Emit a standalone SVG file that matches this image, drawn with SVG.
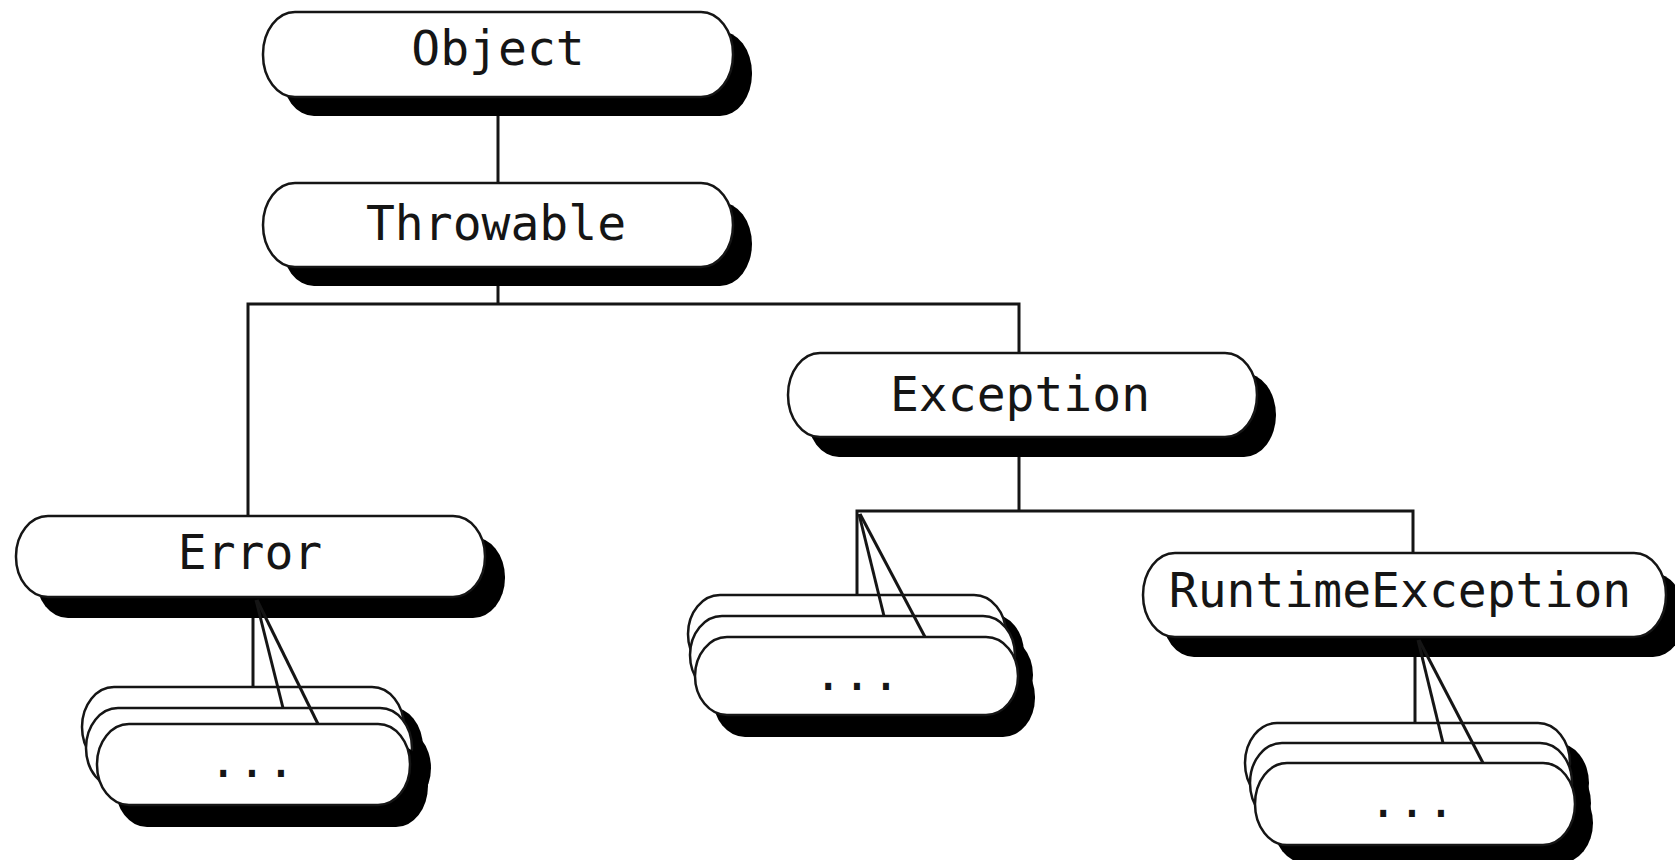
<svg xmlns="http://www.w3.org/2000/svg" width="1675" height="860" viewBox="0 0 1675 860">
  <style>
    .pill { fill: #ffffff; stroke: #151515; stroke-width: 2.5; }
    .shadow { fill: #000000; }
    .lbl { font-family: "DejaVu Sans Mono", "Liberation Mono", monospace; font-size: 48px; fill: #151515; text-anchor: middle; }
    .conn { stroke: #151515; stroke-width: 3; fill: none; }
  </style>
  <rect x="0" y="0" width="1675" height="860" fill="#ffffff"/>

  <g id="node-object">
    <rect class="shadow" x="282" y="31" width="470" height="85" rx="32" ry="42"/>
    <rect class="pill" x="263" y="12" width="470" height="85" rx="32" ry="42"/>
    <text class="lbl" x="498" y="65">Object</text>
  </g>

  <g id="node-throwable">
    <rect class="shadow" x="282" y="202" width="470" height="84" rx="32" ry="42"/>
    <rect class="pill" x="263" y="183" width="470" height="84" rx="32" ry="42"/>
    <text class="lbl" x="496" y="240">Throwable</text>
  </g>

  <g id="node-exception">
    <rect class="shadow" x="807" y="373" width="469" height="84" rx="32" ry="42"/>
    <rect class="pill" x="788" y="353" width="469" height="84" rx="32" ry="42"/>
    <text class="lbl" x="1020" y="411">Exception</text>
  </g>

  <g id="node-error">
    <rect class="shadow" x="36" y="537" width="469" height="81" rx="32" ry="40"/>
    <rect class="pill" x="16" y="516" width="469" height="81" rx="32" ry="40"/>
    <text class="lbl" x="250" y="569">Error</text>
  </g>

  <g id="node-runtimeexception">
    <rect class="shadow" x="1162" y="573" width="523" height="84" rx="32" ry="42"/>
    <rect class="pill" x="1143" y="553" width="523" height="84" rx="32" ry="42"/>
    <text class="lbl" x="1400" y="607">RuntimeException</text>
  </g>

  <g id="node-error-subclasses">
    <rect class="shadow" x="101" y="707" width="322" height="80" rx="32" ry="40"/>
    <rect class="pill" x="82" y="687" width="322" height="80" rx="32" ry="40"/>
    <rect class="shadow" x="105" y="728" width="326" height="80" rx="32" ry="40"/>
    <rect class="pill" x="86" y="708" width="326" height="80" rx="32" ry="40"/>
    <rect class="shadow" x="115" y="745" width="313" height="82" rx="32" ry="41"/>
    <rect class="pill" x="97" y="724" width="313" height="81" rx="32" ry="40"/>
    <text class="lbl" x="252" y="777">...</text>
  </g>

  <g id="node-exception-subclasses">
    <rect class="shadow" x="706" y="614" width="318" height="78" rx="32" ry="39"/>
    <rect class="pill" x="688" y="595" width="318" height="78" rx="32" ry="39"/>
    <rect class="shadow" x="708" y="636" width="325" height="78" rx="32" ry="39"/>
    <rect class="pill" x="690" y="616" width="325" height="78" rx="32" ry="39"/>
    <rect class="shadow" x="713" y="658" width="322" height="79" rx="32" ry="39"/>
    <rect class="pill" x="695" y="637" width="323" height="78" rx="32" ry="39"/>
    <text class="lbl" x="857" y="690">...</text>
  </g>

  <g id="node-runtime-subclasses">
    <rect class="shadow" x="1264" y="743" width="325" height="80" rx="32" ry="40"/>
    <rect class="pill" x="1245" y="723" width="325" height="80" rx="32" ry="40"/>
    <rect class="shadow" x="1269" y="763" width="322" height="80" rx="32" ry="40"/>
    <rect class="pill" x="1250" y="743" width="322" height="80" rx="32" ry="40"/>
    <rect class="shadow" x="1273" y="783" width="320" height="80" rx="32" ry="40"/>
    <rect class="pill" x="1255" y="763" width="320" height="82" rx="32" ry="41"/>
    <text class="lbl" x="1412" y="817">...</text>
  </g>

  <g id="connectors">
    <line class="conn" x1="498" y1="116" x2="498" y2="183"/>
    <polyline class="conn" points="498,286 498,304"/>
    <polyline class="conn" points="248,516 248,304 1019,304 1019,353"/>
    <polyline class="conn" points="1019,457 1019,511"/>
    <polyline class="conn" points="857,595 857,511 1413,511 1413,553"/>
    <line class="conn" x1="859" y1="514" x2="884" y2="616"/>
    <line class="conn" x1="860" y1="514" x2="925" y2="637"/>
    <line class="conn" x1="253" y1="618" x2="253" y2="687"/>
    <line class="conn" x1="256" y1="600" x2="283" y2="708"/>
    <line class="conn" x1="257" y1="600" x2="318" y2="724"/>
    <line class="conn" x1="1415" y1="657" x2="1415" y2="723"/>
    <line class="conn" x1="1418" y1="640" x2="1443" y2="743"/>
    <line class="conn" x1="1419" y1="640" x2="1483" y2="763"/>
  </g>
</svg>
